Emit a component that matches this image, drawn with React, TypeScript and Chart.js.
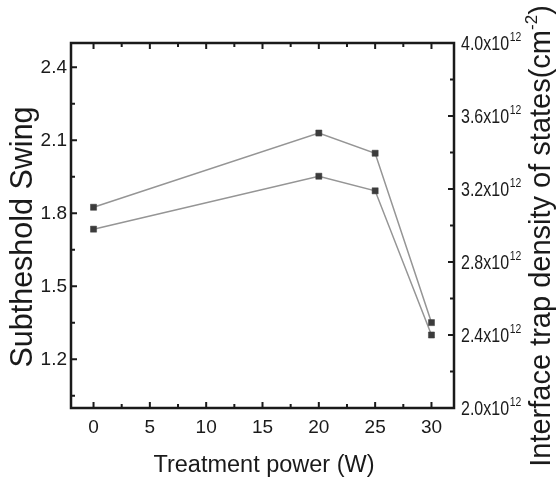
import React, { useEffect, useRef } from "react";
import { Chart, registerables } from "chart.js";

Chart.register(...registerables);

// Data
const powers = [0, 20, 25, 30];
const swing = [1.825, 2.13, 2.047, 1.351];
const trapDensity = [2.98e12, 3.27e12, 3.19e12, 2.4e12];

// Tick values
const xTicks = [0, 5, 10, 15, 20, 25, 30];
const xMinorTicks = [2.5, 7.5, 12.5, 17.5, 22.5, 27.5];
const swingTicks = [1.2, 1.5, 1.8, 2.1, 2.4];
const swingMinorTicks = [1.05, 1.35, 1.65, 1.95, 2.25];
const densityTicks = [2.0e12, 2.4e12, 2.8e12, 3.2e12, 3.6e12, 4.0e12];
const densityMinorTicks = [2.2e12, 2.6e12, 3.0e12, 3.4e12, 3.8e12];

const xTitle = "Treatment power (W)";
const leftTitle = "Subtheshold Swing";
const rightTitleMain = "Interface trap density of states(cm";
const rightTitleSup = "-2";
const rightTitleEnd = ")";
const densityTickBase = "x10";
const densityTickExp = "12";

const FONT = "'Liberation Sans', Arial, Helvetica, sans-serif";

const framePlugin = {
  id: "frameTicks",
  afterDatasetsDraw(chart: any) {
    const { ctx, chartArea } = chart;
    const { left, right, top, bottom } = chartArea;
    const x = chart.scales.x;
    const y = chart.scales.y;
    const y2 = chart.scales.y2;
    ctx.save();
    ctx.strokeStyle = "#1a1a1a";
    ctx.lineCap = "butt";
    ctx.lineWidth = 2;
    const major = 6;
    const minor = 4;
    ctx.beginPath();
    xTicks.forEach((v) => {
      const px = x.getPixelForValue(v);
      ctx.moveTo(px, bottom);
      ctx.lineTo(px, bottom - major);
      ctx.moveTo(px, top);
      ctx.lineTo(px, top + major);
    });
    xMinorTicks.forEach((v) => {
      const px = x.getPixelForValue(v);
      ctx.moveTo(px, bottom);
      ctx.lineTo(px, bottom - minor);
      ctx.moveTo(px, top);
      ctx.lineTo(px, top + minor);
    });
    swingTicks.forEach((v) => {
      const py = y.getPixelForValue(v);
      ctx.moveTo(left, py);
      ctx.lineTo(left + major, py);
    });
    swingMinorTicks.forEach((v) => {
      const py = y.getPixelForValue(v);
      ctx.moveTo(left, py);
      ctx.lineTo(left + minor, py);
    });
    densityTicks.forEach((v) => {
      const py = y2.getPixelForValue(v);
      ctx.moveTo(right, py);
      ctx.lineTo(right - major, py);
    });
    densityMinorTicks.forEach((v) => {
      const py = y2.getPixelForValue(v);
      ctx.moveTo(right, py);
      ctx.lineTo(right - minor, py);
    });
    ctx.stroke();
    ctx.lineWidth = 2.5;
    ctx.strokeRect(left, top, right - left, bottom - top);
    ctx.restore();
  },
  afterDraw(chart: any) {
    const { ctx, chartArea } = chart;
    const y2 = chart.scales.y2;
    ctx.save();
    ctx.fillStyle = "#1a1a1a";

    // right tick labels (condensed, with superscript exponent)
    densityTicks.forEach((v) => {
      const py = y2.getPixelForValue(v);
      ctx.save();
      ctx.translate(chartArea.right + 7, py);
      ctx.scale(0.8, 1);
      ctx.textAlign = "left";
      ctx.textBaseline = "middle";
      ctx.font = `20px ${FONT}`;
      const main = (v / 1e12).toFixed(1) + densityTickBase;
      ctx.fillText(main, 0, 1);
      const w = ctx.measureText(main).width;
      ctx.font = `13px ${FONT}`;
      ctx.fillText(densityTickExp, w + 1, -6);
      ctx.restore();
    });

    // x title
    ctx.font = `23.5px ${FONT}`;
    ctx.textAlign = "center";
    ctx.textBaseline = "middle";
    ctx.fillText(xTitle, (chartArea.left + chartArea.right) / 2 + 1.5, 466);

    // left title
    ctx.save();
    ctx.translate(24, 237);
    ctx.rotate(-Math.PI / 2);
    ctx.font = `30.5px ${FONT}`;
    ctx.textAlign = "center";
    ctx.textBaseline = "middle";
    ctx.fillText(leftTitle, 0, 0);
    ctx.restore();

    // right title
    ctx.save();
    ctx.translate(542, 236);
    ctx.rotate(-Math.PI / 2);
    ctx.textBaseline = "middle";
    ctx.textAlign = "left";
    const mainFont = `29px ${FONT}`;
    const supFont = `17px ${FONT}`;
    ctx.font = mainFont;
    const w1 = ctx.measureText(rightTitleMain).width;
    const w3 = ctx.measureText(rightTitleEnd).width;
    ctx.font = supFont;
    const w2 = ctx.measureText(rightTitleSup).width;
    const total = w1 + w2 + w3;
    let cx = -total / 2;
    ctx.font = mainFont;
    ctx.fillText(rightTitleMain, cx, 0);
    cx += w1;
    ctx.font = supFont;
    ctx.fillText(rightTitleSup, cx, -10);
    cx += w2;
    ctx.font = mainFont;
    ctx.fillText(rightTitleEnd, cx, 0);
    ctx.restore();

    ctx.restore();
  },
};

export default function App() {
  const canvasRef = useRef<HTMLCanvasElement | null>(null);

  useEffect(() => {
    if (!canvasRef.current) return;
    const chart = new Chart(canvasRef.current, {
      type: "line",
      data: {
        datasets: [
          {
            label: "Subtheshold Swing",
            data: powers.map((p, i) => ({ x: p, y: swing[i] })),
            yAxisID: "y",
            borderColor: "#959595",
            borderWidth: 1.5,
            pointStyle: "rect",
            pointRadius: 4.3,
            pointBackgroundColor: "#3c3c3c",
            pointBorderColor: "#3c3c3c",
            pointBorderWidth: 0.5,
            tension: 0,
          },
          {
            label: "Interface trap density of states",
            data: powers.map((p, i) => ({ x: p, y: trapDensity[i] })),
            yAxisID: "y2",
            borderColor: "#959595",
            borderWidth: 1.5,
            pointStyle: "rect",
            pointRadius: 4.3,
            pointBackgroundColor: "#3c3c3c",
            pointBorderColor: "#3c3c3c",
            pointBorderWidth: 0.5,
            tension: 0,
          },
        ],
      },
      options: {
        responsive: false,
        animation: false,
        layout: { padding: { top: 43, left: 0, right: 0, bottom: 0 } },
        plugins: {
          legend: { display: false },
          tooltip: { enabled: false },
        },
        scales: {
          x: {
            type: "linear",
            min: -2,
            max: 32,
            border: { display: false },
            grid: { display: false, drawTicks: false },
            afterBuildTicks: (s: any) => {
              s.ticks = xTicks.map((v) => ({ value: v }));
            },
            afterFit: (s: any) => {
              s.height = 75;
            },
            ticks: {
              padding: 8,
              color: "#1a1a1a",
              font: { family: FONT, size: 19 },
              maxRotation: 0,
              autoSkip: false,
            },
          },
          y: {
            type: "linear",
            position: "left",
            min: 1.0,
            max: 2.5,
            border: { display: false },
            grid: { display: false, drawTicks: false },
            afterBuildTicks: (s: any) => {
              s.ticks = swingTicks.map((v) => ({ value: v }));
            },
            afterFit: (s: any) => {
              s.width = 71;
            },
            ticks: {
              padding: 4,
              color: "#1a1a1a",
              font: { family: FONT, size: 19 },
              callback: (v: any) => Number(v).toFixed(1),
            },
          },
          y2: {
            type: "linear",
            position: "right",
            min: 2.0e12,
            max: 4.0e12,
            border: { display: false },
            grid: { display: false, drawTicks: false },
            afterBuildTicks: (s: any) => {
              s.ticks = densityTicks.map((v) => ({ value: v }));
            },
            afterFit: (s: any) => {
              s.width = 102;
            },
            ticks: { display: false },
          },
        },
      },
      plugins: [framePlugin],
    } as any);
    return () => chart.destroy();
  }, []);

  return (
    <div
      style={{
        position: "fixed",
        left: 0,
        top: 0,
        width: 556,
        height: 483,
        background: "#ffffff",
      }}
    >
      <canvas ref={canvasRef} width={556} height={483} style={{ width: 556, height: 483, display: "block" }} />
    </div>
  );
}
